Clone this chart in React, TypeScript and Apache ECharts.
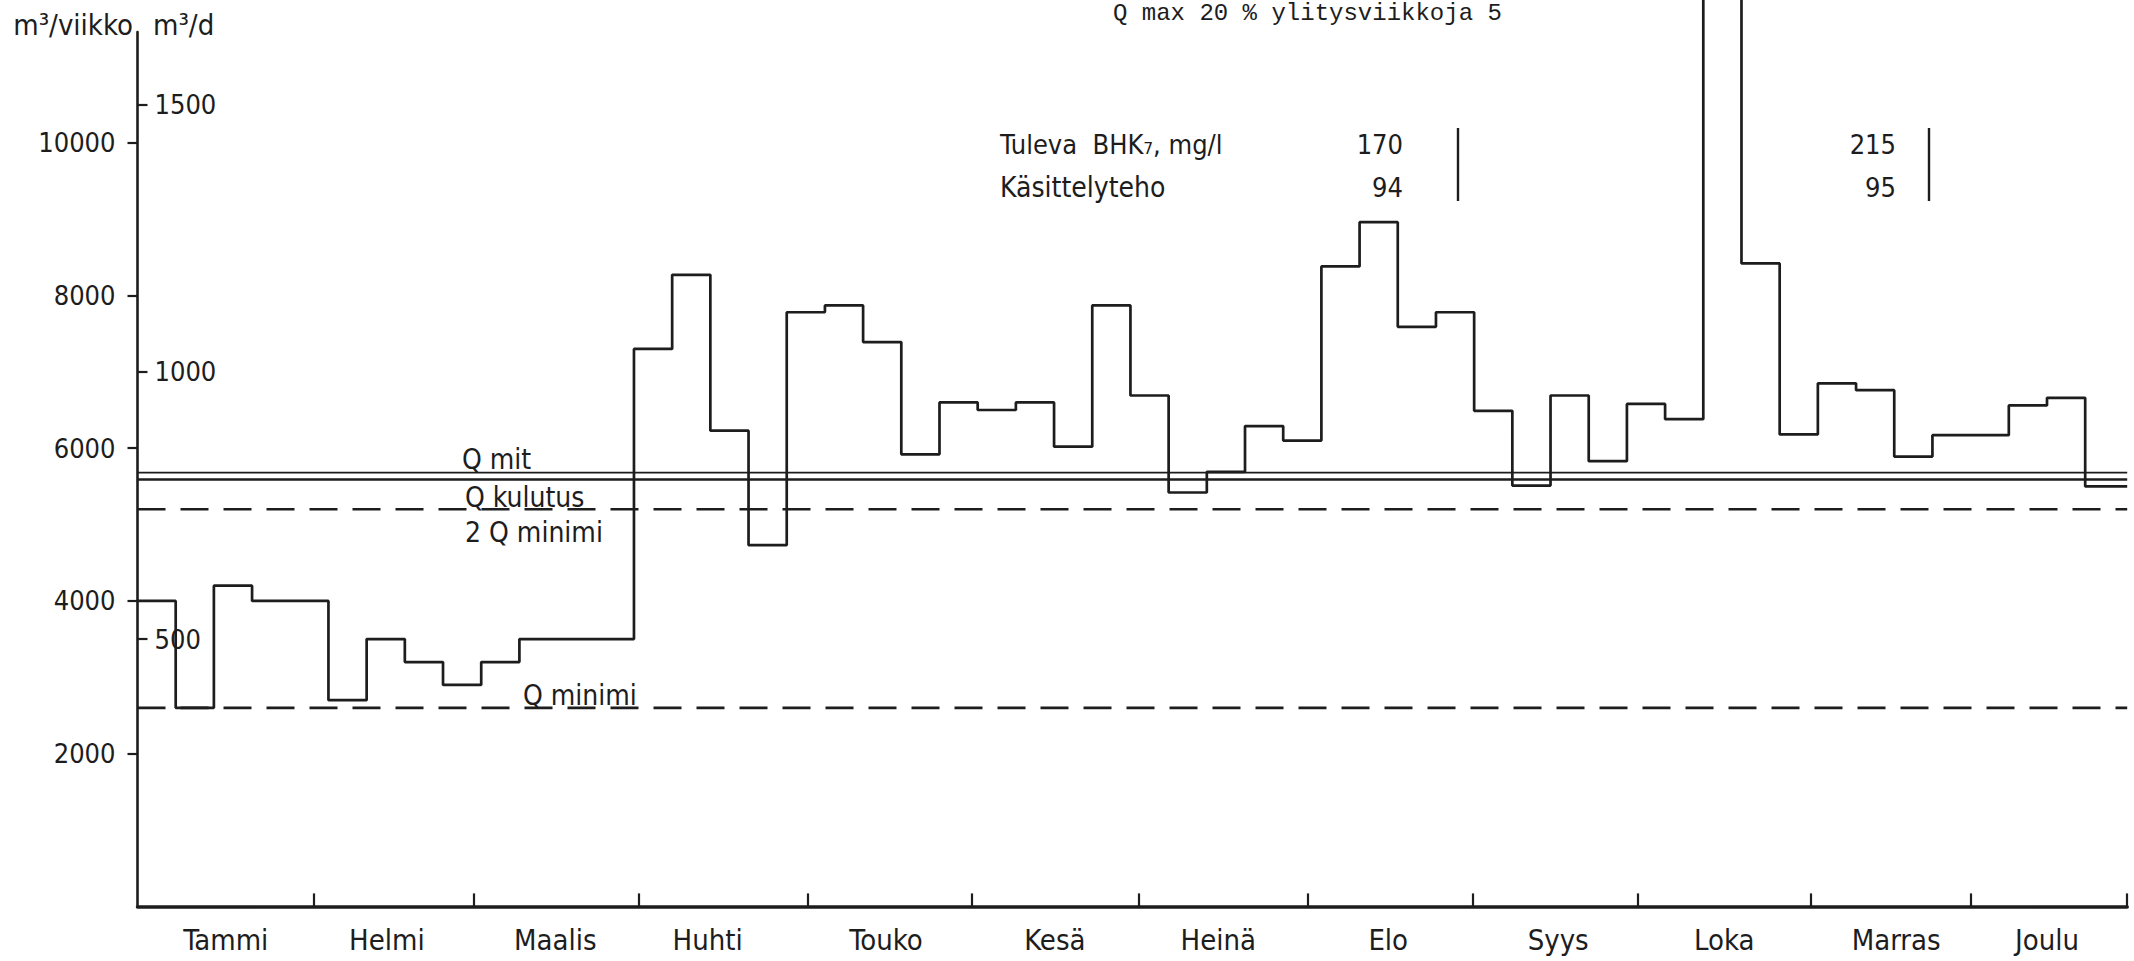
import React, { useEffect, useRef } from "react";
import * as echarts from "echarts";

// Weekly flow, m3/viikko, weeks 1..52 (week 42 runs off the top of the sheet)
const weeklyFlow = [
  4000, 2600, 4200, 4000, 4000, 2700, 3500, 3200, 2900, 3200, 3500, 3500, 3500,
  7300, 8270, 6230, 4730, 7780, 7870, 7390, 5920, 6600, 6500, 6600, 6020, 7870,
  6690, 5420, 5690, 6290, 6100, 8380, 8960, 7590, 7780, 6490, 5510, 6690, 5830,
  6580, 6380, 12500, 8420, 6180, 6850, 6760, 5890, 6170, 6170, 6560, 6660, 5500,
];
const monthNames = ["Tammi", "Helmi", "Maalis", "Huhti", "Touko", "Kesä", "Heinä", "Elo", "Syys", "Loka", "Marras", "Joulu"];
const monthBoundaryWeeks = [4.62, 8.81, 13.13, 17.56, 21.85, 26.22, 30.65, 34.97, 39.29, 43.82, 48.0, 52.1];
const monthLabelWeeks = [2.31, 6.53, 10.94, 14.93, 19.6, 24.02, 28.3, 32.75, 37.2, 41.55, 46.05, 50.0];
const leftTicks = [2000, 4000, 6000, 8000, 10000];
const rightTicks = [500, 1000, 1500];
const refNames = ["Q mit", "Q kulutus", "2 Q minimi", "Q minimi"];
const refValues = [5680, 5590, 5200, 2600];
const bhkValues = ["170", "215"];
const effValues = ["94", "95"];

const X_MAX = 52.1;
const Y_MAX = 11450;
const INK = "#1d1d1d";
const FONT = '"DejaVu Sans Condensed", "DejaVu Sans", sans-serif';

const refStyles = [
  { type: "solid", width: 1.6 },
  { type: "solid", width: 2.6 },
  { type: "dashed", width: 2.6 },
  { type: "dashed", width: 2.6 },
];

function nearestMonth(v: number) {
  let best = 0;
  monthLabelWeeks.forEach((w, i) => {
    if (Math.abs(w - v) < Math.abs(monthLabelWeeks[best] - v)) best = i;
  });
  return monthNames[best];
}

function buildOption() {
  const stepData = weeklyFlow.map((v, i) => [i, v]);
  stepData.push([X_MAX, weeklyFlow[weeklyFlow.length - 1]]);

  const refSeries = refValues.map((v, i) => ({
    name: refNames[i],
    type: "line",
    data: [
      [0, v],
      [X_MAX, v],
    ],
    symbol: "none",
    silent: true,
    lineStyle: {
      color: INK,
      width: refStyles[i].width,
      type: refStyles[i].type === "dashed" ? [28, 15] : "solid",
    },
    z: 2,
  }));

  const txt = (text: string, x: number, y: number, size: number, align = "left", family = FONT, vAlign = "middle") => ({
    type: "text",
    x,
    y,
    silent: true,
    style: { text, fill: INK, fontSize: size, fontFamily: family, align, verticalAlign: vAlign },
  });
  const bar = (x: number) => ({
    type: "line",
    silent: true,
    shape: { x1: x, y1: 128, x2: x, y2: 201 },
    style: { stroke: INK, lineWidth: 2.4 },
  });

  return {
    animation: false,
    backgroundColor: "#ffffff",
    textStyle: { fontFamily: FONT, color: INK },
    grid: { left: 137.5, right: 6.8, top: 32, bottom: 54.6, containLabel: false },
    xAxis: {
      type: "value",
      min: 0,
      max: X_MAX,
      axisLine: { show: true, lineStyle: { color: INK, width: 3.5 } },
      axisTick: {
        show: true,
        inside: true,
        length: 13,
        customValues: monthBoundaryWeeks,
        lineStyle: { color: INK, width: 2.2 },
      },
      axisLabel: {
        show: true,
        customValues: monthLabelWeeks,
        formatter: (v: number) => nearestMonth(v),
        margin: 19,
        fontSize: 29,
        fontFamily: FONT,
        color: INK,
      },
      splitLine: { show: false },
    },
    yAxis: [
      {
        type: "value",
        min: 0,
        max: Y_MAX,
        position: "left",
        axisLine: { show: true, lineStyle: { color: INK, width: 2.6 } },
        axisTick: { show: true, length: 10, customValues: leftTicks, lineStyle: { color: INK, width: 2.2 } },
        axisLabel: {
          customValues: leftTicks,
          formatter: (v: number) => String(v),
          margin: 22,
          fontSize: 27,
          fontFamily: FONT,
          color: INK,
        },
        splitLine: { show: false },
      },
      {
        type: "value",
        min: 0,
        max: Y_MAX / 7,
        position: "left",
        offset: 0,
        axisLine: { show: false },
        axisTick: { show: true, inside: true, length: 10, customValues: rightTicks, lineStyle: { color: INK, width: 2.2 } },
        axisLabel: {
          inside: true,
          customValues: rightTicks,
          formatter: (v: number) => String(v),
          margin: 17,
          fontSize: 27,
          fontFamily: FONT,
          color: INK,
        },
        splitLine: { show: false },
      },
    ],
    series: [
      {
        name: "Virtaama",
        type: "line",
        step: "end",
        data: stepData,
        symbol: "none",
        clip: false,
        silent: true,
        lineStyle: { color: INK, width: 2.7 },
        z: 3,
      },
      ...refSeries,
    ],
    graphic: [
      txt("Q max 20 % ylitysviikkoja 5", 1113, 1, 24, "left", '"Liberation Mono", monospace', "top"),
      txt("m³/viikko", 133, 25, 29, "right"),
      txt("m³/d", 153, 25, 29, "left"),
      txt(refNames[0], 462, 459, 28),
      txt(refNames[1], 465, 497, 28),
      txt(refNames[2], 465, 532, 28),
      txt(refNames[3], 523, 695, 28),
      txt("Tuleva  BHK₇, mg/l", 1000, 144, 27),
      txt("Käsittelyteho", 1000, 187, 28),
      txt(bhkValues[0], 1403, 144, 27, "right"),
      txt(effValues[0], 1403, 187, 27, "right"),
      bar(1458),
      txt(bhkValues[1], 1896, 144, 27, "right"),
      txt(effValues[1], 1896, 187, 27, "right"),
      bar(1929),
    ],
  };
}

export default function App() {
  const ref = useRef<HTMLDivElement>(null);
  useEffect(() => {
    document.body.style.margin = "0";
    const chart = echarts.init(ref.current as HTMLDivElement, null, { renderer: "svg" });
    chart.setOption(buildOption() as any);
    return () => chart.dispose();
  }, []);
  return (
    <div
      ref={ref}
      style={{ position: "absolute", left: 0, top: 0, width: 2134, height: 961, background: "#fff" }}
    />
  );
}
